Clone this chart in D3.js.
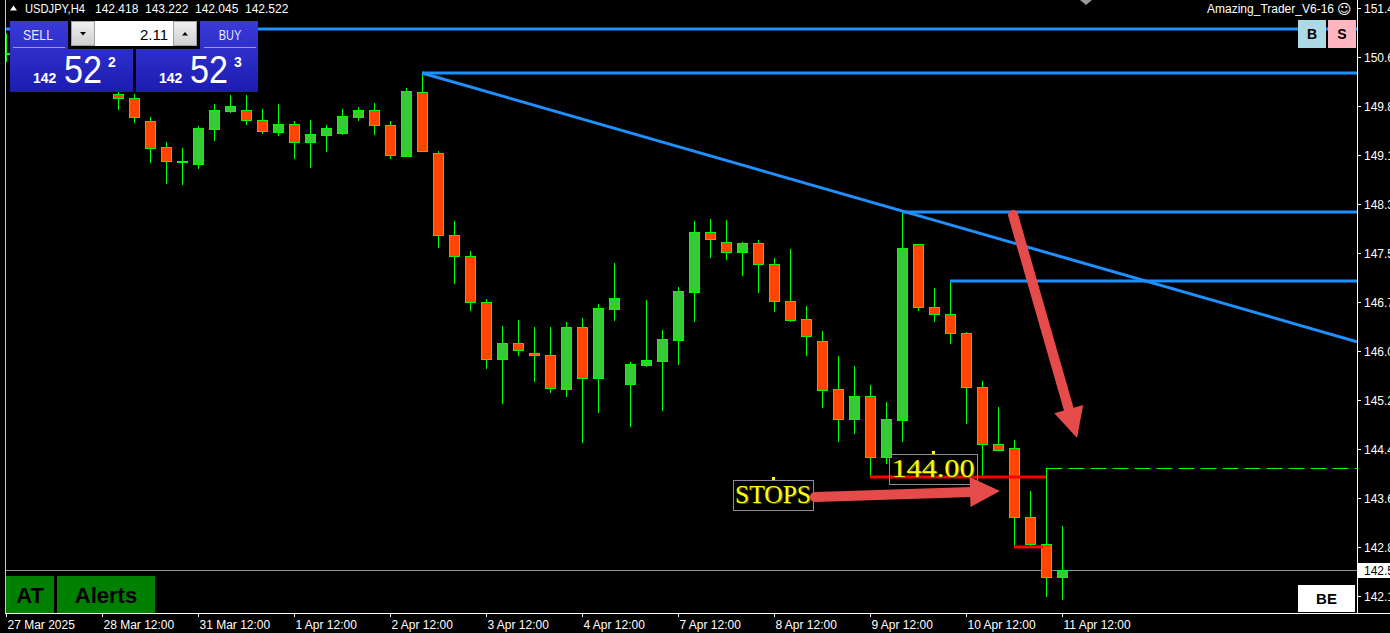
<!DOCTYPE html>
<html>
<head>
<meta charset="utf-8">
<script src="https://cdn.jsdelivr.net/npm/d3@7"></script>
<style>
  html, body { margin: 0; padding: 0; background: #000; overflow: hidden; }
  svg { display: block; font-family: "Liberation Sans", Arial, sans-serif; }
</style>
</head>
<body>
<div id="chart"></div>
<script>
// ---- data ----
const symbol = "USDJPY,H4";
const indicatorName = "Amazing_Trader_V6-16";

// x axis labels and the bar index they sit on
const timeLabels = ["27 Mar 2025", "28 Mar 12:00", "31 Mar 12:00", "1 Apr 12:00", "2 Apr 12:00",
  "3 Apr 12:00", "4 Apr 12:00", "7 Apr 12:00", "8 Apr 12:00", "9 Apr 12:00", "10 Apr 12:00", "11 Apr 12:00"];
const timeLabelBars = [0, 6, 12, 18, 24, 30, 36, 42, 48, 54, 60, 66];

// right price scale
const priceTicks = [151.457, 150.678, 149.899, 149.120, 148.341, 147.562, 146.783,
  146.004, 145.225, 144.446, 143.667, 142.888, 142.109];

// H4 bars: [open, high, low, close]
const bars = [
  [150.72, 151.05, 150.60, 150.74], [150.74, 150.78, 150.50, 150.58], [150.58, 150.70, 150.40, 150.45],
  [150.45, 150.60, 150.30, 150.52], [150.52, 150.58, 150.28, 150.35], [150.35, 150.48, 150.20, 150.40],
  [150.40, 150.45, 150.16, 150.20], [150.090, 150.200, 149.835, 150.026], [150.026, 150.089, 149.628, 149.724],
  [149.660, 149.724, 148.992, 149.231], [149.247, 149.326, 148.659, 149.024], [149.024, 149.231, 148.643, 149.030],
  [148.977, 149.581, 148.897, 149.549], [149.533, 149.930, 149.342, 149.835], [149.819, 150.074, 149.787, 149.899],
  [149.835, 150.074, 149.597, 149.676], [149.676, 149.851, 149.454, 149.501], [149.485, 149.930, 149.422, 149.613],
  [149.613, 149.660, 149.056, 149.326], [149.326, 149.676, 148.913, 149.454], [149.438, 149.597, 149.167, 149.549],
  [149.469, 149.851, 149.438, 149.740], [149.724, 149.883, 149.660, 149.835], [149.835, 149.946, 149.438, 149.597],
  [149.597, 149.660, 149.056, 149.120], [149.104, 150.185, 149.088, 150.137], [150.121, 150.423, 149.167, 149.183],
  [149.152, 149.183, 147.641, 147.848], [147.848, 148.070, 147.069, 147.514], [147.514, 147.594, 146.640, 146.783],
  [146.783, 146.830, 145.718, 145.876], [145.876, 146.401, 145.161, 146.131], [146.131, 146.497, 145.924, 146.020],
  [145.972, 146.385, 145.511, 145.940], [145.940, 146.385, 145.336, 145.415], [145.400, 146.465, 145.272, 146.385],
  [146.385, 146.528, 144.541, 145.574], [145.574, 146.751, 145.018, 146.687], [146.671, 147.403, 146.481, 146.846],
  [145.479, 145.829, 144.795, 145.797], [145.781, 146.814, 145.749, 145.861], [145.845, 146.338, 145.050, 146.194],
  [146.179, 147.021, 145.781, 146.958], [146.942, 148.070, 146.465, 147.896], [147.896, 148.102, 147.482, 147.784],
  [147.737, 148.086, 147.450, 147.578], [147.578, 147.737, 147.196, 147.721], [147.721, 147.768, 146.926, 147.387],
  [147.387, 147.482, 146.624, 146.799], [146.799, 147.625, 146.465, 146.497], [146.512, 146.719, 145.924, 146.242],
  [146.163, 146.322, 145.097, 145.384], [145.400, 145.924, 144.557, 144.923], [144.923, 145.765, 144.684, 145.288],
  [145.288, 145.463, 144.001, 144.318], [144.318, 145.193, 144.207, 144.923], [144.907, 148.213, 144.557, 147.641],
  [147.705, 147.705, 146.640, 146.703], [146.703, 147.005, 146.465, 146.592], [146.592, 147.117, 146.115, 146.290],
  [146.290, 146.306, 144.843, 145.431], [145.431, 145.527, 144.001, 144.525], [144.525, 145.113, 144.414, 144.430],
  [144.462, 144.589, 142.872, 143.365], [143.365, 143.778, 142.888, 142.935], [142.935, 144.144, 142.093, 142.418],
  [142.418, 143.222, 142.045, 142.522]
];

const bid = 142.522;
const ask = 142.523;
const lots = "2.11";

// drawn objects: blue horizontal rays, trend line, red levels, dashed level
const blueRays = [{ from: 0, price: 151.123 }, { from: 26, price: 150.423 }, { from: 56, price: 148.213 }, { from: 59, price: 147.117 }];
const trendLine = [[26, 150.423], [56, 148.23]];
const redLevels = [{ from: 54, to: 65, price: 144.00 }, { from: 63, to: 64.8, price: 142.888 }];
const dashedLevel = { from: 65, price: 144.144 };
const arrows = [
  { from: [62.94, 148.166], to: [66.94, 144.621] },
  { from: [50.56, 143.683], to: [62.125, 143.778] }
];
const textLabels = [
  { bar: 47.94, price: 143.985, text: "STOPS", w: 80, tw: 76 },
  { bar: 57.94, price: 144.398, text: "144.00", w: 88, tw: 83 }
];

// ---- layout ----
const width = 1390, height = 633;
const plot = { left: 6, right: 1357, top: 0, bottom: 613 };
const barStep = 16;

const svg = d3.select("#chart").append("svg")
  .attr("width", width).attr("height", height)
  .style("background", "#000");

const x = d3.scaleLinear()
  .domain([0, (plot.right - plot.left) / barStep])
  .range([plot.left, plot.right]);
const y = d3.scaleLinear()
  .domain([141.838, 151.584])
  .range([plot.bottom, plot.top]);

const defs = svg.append("defs");
defs.append("clipPath").attr("id", "plot-area")
  .append("rect")
  .attr("x", plot.left).attr("y", plot.top)
  .attr("width", plot.right - plot.left).attr("height", plot.bottom - plot.top);
const grad = defs.append("linearGradient").attr("id", "panelBlue")
  .attr("x1", 0).attr("x2", 0).attr("y1", 0).attr("y2", 1);
grad.append("stop").attr("offset", "0%").attr("stop-color", "#3a3ad9");
grad.append("stop").attr("offset", "100%").attr("stop-color", "#1c1cb2");
const gray = defs.append("linearGradient").attr("id", "btnGray")
  .attr("x1", 0).attr("x2", 0).attr("y1", 0).attr("y2", 1);
gray.append("stop").attr("offset", "0%").attr("stop-color", "#f0f0f0");
gray.append("stop").attr("offset", "100%").attr("stop-color", "#cfcfcf");

const g = svg.append("g").attr("clip-path", "url(#plot-area)");
const px = (v) => Math.round(v);

// current bid line, behind the bars
g.append("line")
  .attr("x1", plot.left).attr("x2", plot.right)
  .attr("y1", px(y(bid)) + 0.5).attr("y2", px(y(bid)) + 0.5)
  .attr("stroke", "#8a8f99").attr("stroke-width", 1);

// candles
const candle = g.selectAll(".candle")
  .data(bars)
  .join("g")
  .attr("class", "candle");

candle.append("line")
  .attr("x1", (d, i) => px(x(i)) + 0.5)
  .attr("x2", (d, i) => px(x(i)) + 0.5)
  .attr("y1", (d) => y(d[1]))
  .attr("y2", (d) => y(d[2]))
  .attr("stroke", "#00ff00")
  .attr("stroke-width", 1);

candle.append("rect")
  .attr("x", (d, i) => px(x(i)) - 4.5)
  .attr("width", 10)
  .attr("y", (d) => px(y(Math.max(d[0], d[3]))) + 0.5)
  .attr("height", (d) => Math.max(1, px(Math.abs(y(d[0]) - y(d[3])))))
  .attr("fill", (d) => (d[3] >= d[0] ? "#32cd32" : "#ff4500"))
  .attr("stroke", "#00ff00")
  .attr("stroke-width", 1);

// blue rays to the right edge
g.selectAll(".ray")
  .data(blueRays)
  .join("line")
  .attr("class", "ray")
  .attr("x1", (d) => x(d.from)).attr("x2", plot.right)
  .attr("y1", (d) => y(d.price)).attr("y2", (d) => y(d.price))
  .attr("stroke", "#1e90ff").attr("stroke-width", 3);

// trend line, extended to the right
const slope = (trendLine[1][1] - trendLine[0][1]) / (trendLine[1][0] - trendLine[0][0]);
const endBar = x.domain()[1];
g.append("line")
  .attr("x1", x(trendLine[0][0])).attr("y1", y(trendLine[0][1]))
  .attr("x2", x(endBar)).attr("y2", y(trendLine[0][1] + slope * (endBar - trendLine[0][0])))
  .attr("stroke", "#1e90ff").attr("stroke-width", 3);

// red levels
g.selectAll(".redLevel")
  .data(redLevels)
  .join("line")
  .attr("class", "redLevel")
  .attr("x1", (d) => x(d.from)).attr("x2", (d) => x(d.to))
  .attr("y1", (d) => y(d.price)).attr("y2", (d) => y(d.price))
  .attr("stroke", "#ff0000").attr("stroke-width", 3);

// green dashed level
g.append("line")
  .attr("x1", x(dashedLevel.from) + 0.5).attr("x2", plot.right)
  .attr("y1", px(y(dashedLevel.price)) + 0.5).attr("y2", px(y(dashedLevel.price)) + 0.5)
  .attr("stroke", "#00ff00").attr("stroke-width", 1)
  .attr("stroke-dasharray", "16,6");

// text objects with frames
const labels = g.selectAll(".tlabel")
  .data(textLabels)
  .join("g")
  .attr("class", "tlabel")
  .attr("transform", (d) => `translate(${px(x(d.bar))},${px(y(d.price))})`);
labels.append("rect")
  .attr("x", (d) => -d.w / 2 + 0.5).attr("y", 2.5)
  .attr("width", (d) => d.w).attr("height", 30)
  .attr("fill", "none").attr("stroke", "#8c8c96").attr("stroke-width", 1);
labels.append("rect")
  .attr("x", -1).attr("y", -1).attr("width", 3).attr("height", 3)
  .attr("fill", "#ffff00");
labels.append("text")
  .attr("x", 1.2).attr("y", 26.2)
  .attr("text-anchor", "middle")
  .attr("textLength", (d) => d.tw).attr("lengthAdjust", "spacingAndGlyphs")
  .style("font-family", "'Liberation Serif', 'Times New Roman', serif")
  .style("font-size", "26px")
  .attr("fill", "#5a5a00")
  .text((d) => d.text);
labels.append("text")
  .attr("x", 0).attr("y", 25)
  .attr("text-anchor", "middle")
  .attr("textLength", (d) => d.tw).attr("lengthAdjust", "spacingAndGlyphs")
  .style("font-family", "'Liberation Serif', 'Times New Roman', serif")
  .style("font-size", "26px")
  .attr("fill", "#ffff00")
  .text((d) => d.text);

// big red arrows
const arrowShape = (a, shaft, headW, headL) => {
  const x1 = x(a.from[0]), y1 = y(a.from[1]);
  const x2 = x(a.to[0]), y2 = y(a.to[1]);
  const len = Math.hypot(x2 - x1, y2 - y1);
  const ux = (x2 - x1) / len, uy = (y2 - y1) / len;
  const bx = x2 - ux * headL, by = y2 - uy * headL;
  return {
    shaft: [x1, y1, bx + ux * 2, by + uy * 2],
    head: [[x2, y2], [bx - uy * headW / 2, by + ux * headW / 2], [bx + uy * headW / 2, by - ux * headW / 2]]
  };
};
arrows.forEach((a) => {
  const s = arrowShape(a, 10, 30, 30);
  g.append("line")
    .attr("x1", s.shaft[0]).attr("y1", s.shaft[1])
    .attr("x2", s.shaft[2]).attr("y2", s.shaft[3])
    .attr("stroke", "#e64b4b").attr("stroke-width", 10)
    .attr("stroke-linecap", "round");
  g.append("path")
    .attr("d", "M" + s.head.map((p) => p.join(",")).join("L") + "Z")
    .attr("fill", "#e64b4b");
});

// ---- axes ----
// left frame
svg.append("line")
  .attr("x1", 5.5).attr("x2", 5.5).attr("y1", 0).attr("y2", plot.bottom)
  .attr("stroke", "#c8c8c8");

// bottom time axis
const xAxis = svg.append("g").attr("transform", `translate(0,${plot.bottom})`);
xAxis.append("line")
  .attr("x1", 5).attr("x2", width).attr("y1", 0.5).attr("y2", 0.5)
  .attr("stroke", "#ffffff");
const xt = xAxis.selectAll(".xt")
  .data(timeLabels)
  .join("g")
  .attr("class", "xt")
  .attr("transform", (d, i) => `translate(${px(x(timeLabelBars[i])) + 0.5},0)`);
xt.append("line").attr("y1", 0).attr("y2", 4).attr("stroke", "#ffffff");
xt.append("text")
  .attr("x", 1).attr("y", 16)
  .attr("fill", "#ffffff")
  .style("font-size", "12px")
  .text((d) => d);

// right price axis
const yAxis = svg.append("g");
yAxis.append("line")
  .attr("x1", plot.right + 0.5).attr("x2", plot.right + 0.5)
  .attr("y1", 0).attr("y2", plot.bottom + 1)
  .attr("stroke", "#ffffff");
const yt = yAxis.selectAll(".yt")
  .data(priceTicks)
  .join("g")
  .attr("class", "yt")
  .attr("transform", (d) => `translate(0,${px(y(d)) + 0.5})`);
yt.append("line").attr("x1", plot.right).attr("x2", plot.right + 4).attr("stroke", "#ffffff");
yt.append("text")
  .attr("x", 1364).attr("dy", "0.35em")
  .attr("fill", "#ffffff")
  .style("font-size", "12px")
  .text((d) => d3.format(".3f")(d));

// bid marker on the price axis
yAxis.append("rect")
  .attr("x", plot.right + 1).attr("y", px(y(bid)) - 7)
  .attr("width", width - plot.right).attr("height", 15)
  .attr("fill", "#ffffff");
yAxis.append("text")
  .attr("x", 1364).attr("y", px(y(bid)) + 0.5).attr("dy", "0.35em")
  .attr("fill", "#000000")
  .style("font-size", "12px")
  .text(d3.format(".3f")(bid));

// ---- header ----
const last = bars[bars.length - 1];
svg.append("path").attr("d", "M10,10.5L17,10.5L13.5,5.5Z").attr("fill", "#ffffff");
svg.append("text")
  .attr("x", 25).attr("y", 13)
  .attr("fill", "#ffffff").style("font-size", "12px")
  .attr("textLength", 60).attr("lengthAdjust", "spacingAndGlyphs")
  .text(symbol);
svg.selectAll(".ohlc")
  .data(last)
  .join("text")
  .attr("class", "ohlc")
  .attr("x", (d, i) => 95 + i * 50).attr("y", 13)
  .attr("fill", "#ffffff").style("font-size", "12px")
  .text((d) => d3.format(".3f")(d));

svg.append("text")
  .attr("x", 1334).attr("y", 13)
  .attr("text-anchor", "end")
  .attr("fill", "#ffffff").style("font-size", "12px")
  .text(indicatorName);
svg.append("text")
  .attr("x", 1337).attr("y", 14)
  .attr("fill", "#ffffff")
  .style("font-family", "'DejaVu Sans', sans-serif").style("font-size", "14px")
  .text("\u263A");

// chart shift marker
svg.append("path").attr("d", "M1080,0L1092,0L1086,5Z").attr("fill", "#9a9a9a");

// B / S buttons
const corner = [{ t: "B", x: 1298, fill: "#add8e6" }, { t: "S", x: 1328, fill: "#ffb6c1" }];
corner.forEach((b) => {
  svg.append("rect").attr("x", b.x).attr("y", 20).attr("width", 28).attr("height", 28).attr("fill", b.fill);
  svg.append("text").attr("x", b.x + 14).attr("y", 39)
    .attr("text-anchor", "middle").style("font-size", "14px").style("font-weight", "bold")
    .attr("fill", "#000").text(b.t);
});

// ---- trade panel ----
const panel = svg.append("g");
panel.append("rect").attr("x", 10).attr("y", 21).attr("width", 123).attr("height", 71).attr("fill", "url(#panelBlue)");
panel.append("rect").attr("x", 136).attr("y", 21).attr("width", 122).attr("height", 71).attr("fill", "url(#panelBlue)");
panel.append("rect").attr("x", 68).attr("y", 19).attr("width", 132).attr("height", 30).attr("fill", "#000");
panel.append("rect").attr("x", 71).attr("y", 21).attr("width", 126).attr("height", 25).attr("fill", "#ffffff");
panel.append("rect").attr("x", 71.5).attr("y", 21.5).attr("width", 23).attr("height", 24)
  .attr("fill", "url(#btnGray)").attr("stroke", "#a0a0a0");
panel.append("rect").attr("x", 173.5).attr("y", 21.5).attr("width", 23).attr("height", 24)
  .attr("fill", "url(#btnGray)").attr("stroke", "#a0a0a0");
panel.append("path").attr("d", "M80,32L86,32L83,35.5Z").attr("fill", "#000");
panel.append("path").attr("d", "M182,35.5L188,35.5L185,32Z").attr("fill", "#000");
panel.append("text").attr("x", 168).attr("y", 40).attr("text-anchor", "end")
  .style("font-size", "15px").attr("fill", "#000").text(lots);

const sides = [
  { label: "SELL", lx: 38, line: [13, 65], price: bid, px0: 33 },
  { label: "BUY", lx: 230, line: [204, 256], price: ask, px0: 159 }
];
sides.forEach((s) => {
  const str = d3.format(".3f")(s.price);
  panel.append("text").attr("x", s.lx).attr("y", 40).attr("text-anchor", "middle")
    .style("font-size", "15px").attr("fill", "#e8e8ff")
    .attr("textLength", s.label.length * 7.5).attr("lengthAdjust", "spacingAndGlyphs")
    .text(s.label);
  panel.append("line").attr("x1", s.line[0]).attr("x2", s.line[1]).attr("y1", 47.5).attr("y2", 47.5)
    .attr("stroke", "#9a9ae0");
  panel.append("text").attr("x", s.px0).attr("y", 83)
    .style("font-size", "14px").style("font-weight", "bold").attr("fill", "#ffffff")
    .text(str.slice(0, 3));
  panel.append("text").attr("x", s.px0 + 31).attr("y", 83)
    .style("font-size", "38px").attr("fill", "#ffffff")
    .attr("textLength", 38).attr("lengthAdjust", "spacingAndGlyphs")
    .text(str.slice(4, 6));
  panel.append("text").attr("x", s.px0 + 75).attr("y", 67)
    .style("font-size", "14px").style("font-weight", "bold").attr("fill", "#ffffff")
    .text(str.slice(6));
});

// ---- bottom buttons ----
const btns = [{ t: "AT", x: 6, w: 48 }, { t: "Alerts", x: 57, w: 98 }];
btns.forEach((b) => {
  svg.append("rect").attr("x", b.x).attr("y", 576).attr("width", b.w).attr("height", 37).attr("fill", "#008000");
  svg.append("text").attr("x", b.x + b.w / 2).attr("y", 603).attr("text-anchor", "middle")
    .style("font-size", "22px").style("font-weight", "bold").attr("fill", "#000").text(b.t);
});
svg.append("rect").attr("x", 1298).attr("y", 585).attr("width", 57).attr("height", 27).attr("fill", "#ffffff");
svg.append("text").attr("x", 1326.5).attr("y", 604).attr("text-anchor", "middle")
  .style("font-size", "15px").style("font-weight", "bold").attr("fill", "#000").text("BE");
</script>
</body>
</html>
